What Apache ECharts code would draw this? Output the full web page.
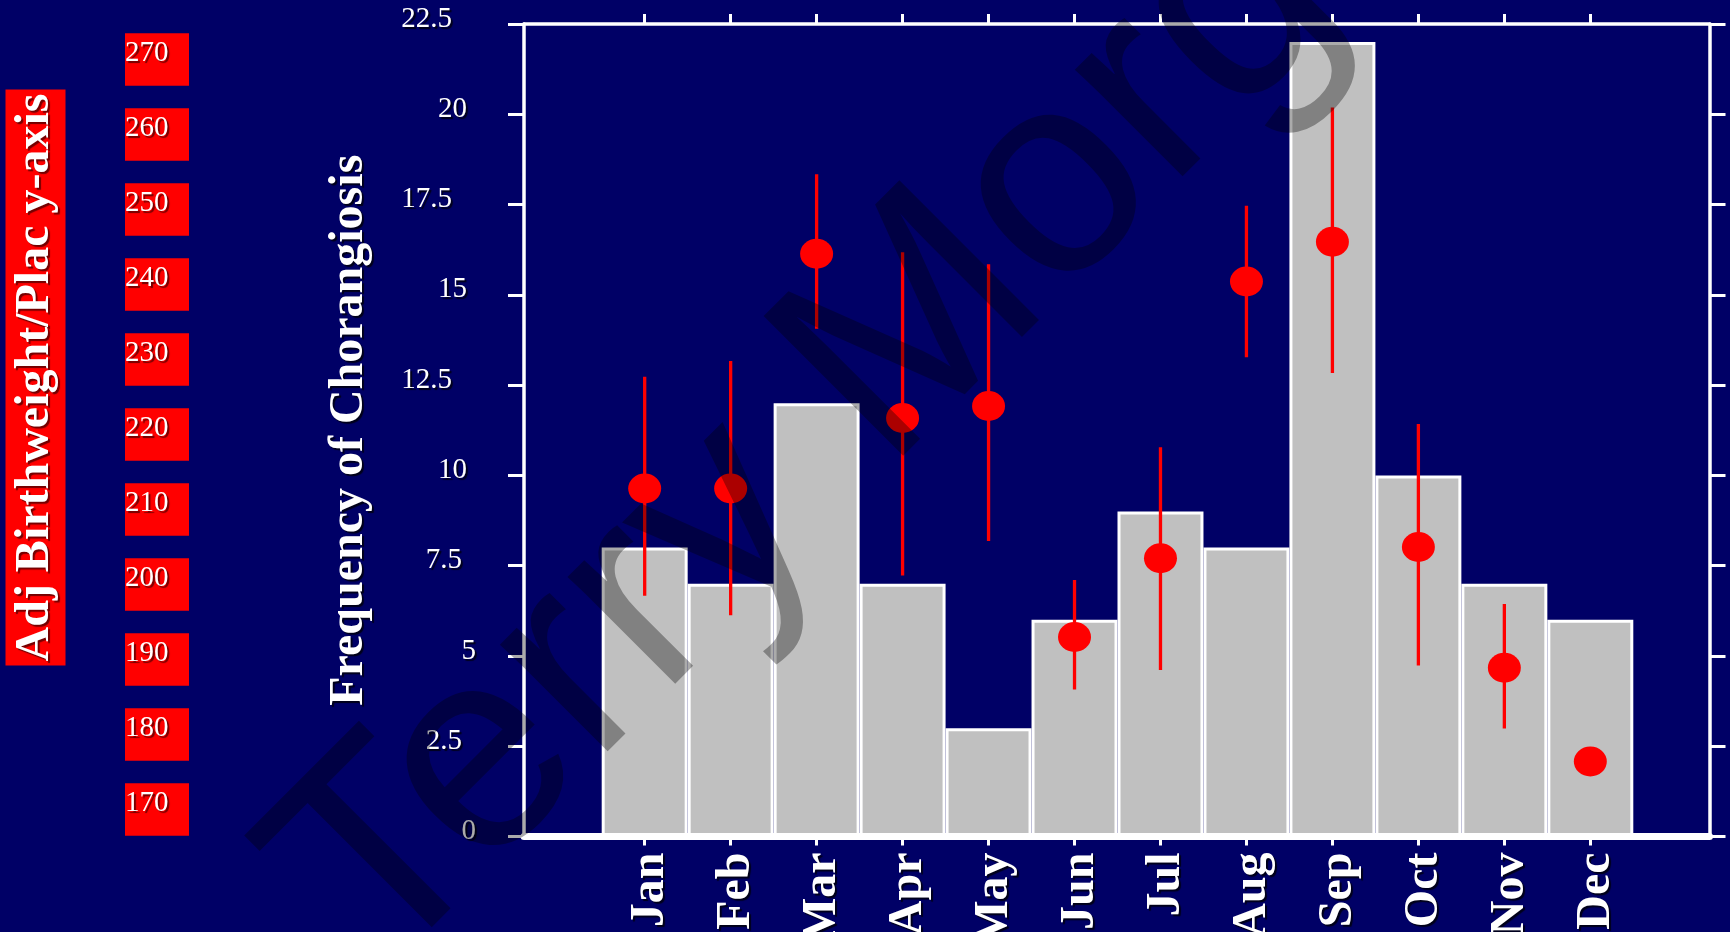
<!DOCTYPE html>
<html>
<head>
<meta charset="utf-8">
<style>
  html, body { margin: 0; padding: 0; background: #000066; }
  #chart { width: 1730px; height: 932px; }
</style>
<script src="https://cdn.jsdelivr.net/npm/echarts@6/dist/echarts.min.js"></script>
</head>
<body>
<div id="chart"></div>
<script>
// histogram counts per birth month
const months = ['Jan', 'Feb', 'Mar', 'Apr', 'May', 'Jun', 'Jul', 'Aug', 'Sep', 'Oct', 'Nov', 'Dec'];
const frequency = [8, 7, 12, 7, 3, 6, 9, 8, 22, 10, 7, 6];

// adjusted birthweight / placenta ratio (mean with error range)
const ratioMean = [212.8, 212.8, 244.1, 222.2, 223.8, 193.0, 203.5, 240.4, 245.7, 205.0, 188.9, 176.4];
const ratioHigh = [227.7, 229.8, 254.7, 244.3, 242.7, 200.6, 218.3, 250.5, 263.6, 221.4, 197.4, null];
const ratioLow = [198.5, 195.9, 234.1, 201.2, 205.8, 186.0, 188.6, 230.3, 228.2, 189.2, 180.8, null];

// axis ranges
const freqMin = 0, freqMax = 22.5, freqStep = 2.5;
const ratioMin = 170, ratioMax = 270, ratioStep = 10;

const serif = '"Liberation Serif", "Times New Roman", serif';
const textShadow = {
  textShadowColor: 'rgba(0,0,0,0.75)',
  textShadowOffsetX: 2,
  textShadowOffsetY: 2,
  textShadowBlur: 1
};
const redShadow = {
  textShadowColor: 'rgba(80,0,0,0.8)',
  textShadowOffsetX: 2,
  textShadowOffsetY: 2,
  textShadowBlur: 1
};

const chart = echarts.init(document.getElementById('chart'));

const errorData = [];
months.forEach((m, i) => {
  if (ratioLow[i] != null && ratioHigh[i] != null) errorData.push([i, ratioLow[i], ratioHigh[i]]);
});

const gridBase = { containLabel: false, outerBoundsMode: 'none' };
const tickLabel = (pad) => ({ color: '#fff', fontFamily: serif, fontSize: 29, padding: [0, pad, 10, 0], ...textShadow });

const option = {
  backgroundColor: '#000066',
  animation: false,
  grid: [
    { ...gridBase, left: 524, right: 20.5, top: 24, bottom: 95.5 },     // frame
    { ...gridBase, left: 601.7, right: 96.7, top: 24, bottom: 95.5 },   // histogram bars
    { ...gridBase, left: 601.7, right: 96.7, top: 59.5, bottom: 122.5 } // ratio scale
  ],
  xAxis: [
    {
      gridIndex: 0, type: 'value', min: 0, max: 1, position: 'bottom', z: 5,
      axisLine: { show: true, onZero: false, lineStyle: { color: '#fff', width: 7 } },
      axisTick: { show: false }, axisLabel: { show: false }, splitLine: { show: false }
    },
    {
      gridIndex: 0, type: 'value', min: 0, max: 1, position: 'top', z: 5,
      axisLine: { show: true, onZero: false, lineStyle: { color: '#fff', width: 3.5 } },
      axisTick: { show: false }, axisLabel: { show: false }, splitLine: { show: false }
    },
    {
      gridIndex: 1, type: 'category', data: months, position: 'bottom', z: 6,
      axisLine: { show: false, onZero: false },
      axisTick: { show: true, alignWithLabel: true, length: 9, lineStyle: { color: '#fff', width: 3 } },
      axisLabel: {
        rotate: 90, margin: 16, interval: 0,
        formatter: v => '{m|' + v + '}',
        rich: {
          m: { color: '#fff', fontFamily: serif, fontWeight: 'bold', fontSize: 48, padding: [12, 0, 0, 0], ...textShadow }
        }
      },
      splitLine: { show: false }
    },
    {
      gridIndex: 1, type: 'category', data: months, position: 'top', z: 6,
      axisLine: { show: false, onZero: false },
      axisTick: { show: true, alignWithLabel: true, length: 10, lineStyle: { color: '#fff', width: 3 } },
      axisLabel: { show: false },
      splitLine: { show: false }
    },
    { gridIndex: 2, type: 'category', data: months, show: false }
  ],
  yAxis: [
    {
      gridIndex: 0, type: 'value', min: freqMin, max: freqMax, interval: freqStep, position: 'left', z: 5,
      axisLine: { show: true, onZero: false, lineStyle: { color: '#fff', width: 3.5 } },
      axisTick: { show: true, length: 16, lineStyle: { color: '#fff', width: 3 } },
      axisLabel: {
        margin: 48,
        formatter: v => { const s = String(v); return '{w' + s.length + '|' + s + '}'; },
        rich: { w1: tickLabel(0), w2: tickLabel(9), w3: tickLabel(14), w4: tickLabel(24) }
      },
      splitLine: { show: false },
      name: 'Frequency of Chorangiosis',
      nameLocation: 'middle',
      nameGap: 150,
      nameTextStyle: { color: '#fff', fontFamily: serif, fontWeight: 'bold', fontSize: 48, ...textShadow }
    },
    {
      gridIndex: 0, type: 'value', min: freqMin, max: freqMax, interval: freqStep, position: 'right', z: 5,
      axisLine: { show: true, onZero: false, lineStyle: { color: '#fff', width: 3.5 } },
      axisTick: { show: true, length: 16, lineStyle: { color: '#fff', width: 3 } },
      axisLabel: { show: false },
      splitLine: { show: false }
    },
    { gridIndex: 1, type: 'value', min: freqMin, max: freqMax, show: false },
    {
      gridIndex: 2, type: 'value', min: ratioMin, max: ratioMax, interval: ratioStep,
      position: 'left', offset: 404.7,
      axisLine: { show: false }, axisTick: { show: false }, splitLine: { show: false },
      axisLabel: {
        margin: 8,
        formatter: v => '{r|' + v + '}',
        rich: {
          r: {
            color: '#fff', fontFamily: serif, fontSize: 29, lineHeight: 29,
            backgroundColor: '#ff0000',
            padding: [5.5, 20.5, 17.9, 0],
            ...redShadow
          }
        }
      }
    }
  ],
  series: [
    {
      type: 'bar', xAxisIndex: 2, yAxisIndex: 2, data: frequency,
      barCategoryGap: '0%', silent: true, z: 2,
      itemStyle: { color: '#c0c0c0', borderColor: '#fff', borderWidth: 3 }
    },
    {
      type: 'custom', xAxisIndex: 4, yAxisIndex: 3, data: errorData, silent: true, z: 3,
      encode: { x: 0, y: [1, 2] },
      renderItem: (params, api) => {
        const lo = api.coord([api.value(0), api.value(1)]);
        const hi = api.coord([api.value(0), api.value(2)]);
        return {
          type: 'line',
          shape: { x1: lo[0], y1: lo[1], x2: hi[0], y2: hi[1] },
          style: { stroke: '#ff0000', lineWidth: 3.3 }
        };
      }
    },
    {
      type: 'scatter', xAxisIndex: 4, yAxisIndex: 3, data: ratioMean, silent: true, z: 4,
      symbol: 'circle', symbolSize: [33, 30],
      itemStyle: { color: '#ff0000', opacity: 1 }
    }
  ],
  graphic: [
    {
      type: 'text', x: 35.5, y: 377.5, rotation: Math.PI / 2, z: 10, silent: true,
      style: {
        text: 'Adj Birthweight/Plac y-axis',
        font: 'bold 48px "Liberation Serif"',
        fill: '#fff',
        backgroundColor: '#ff0000',
        padding: [6, 4, 6, 4],
        align: 'center', verticalAlign: 'middle',
        textAlign: 'center', textVerticalAlign: 'middle',
        ...redShadow
      }
    },
    {
      // watermark over the whole picture
      type: 'text', x: 921, y: 326, rotation: Math.PI / 4, z: 100, silent: true,
      style: {
        text: 'Terry Morgan',
        font: '287px "Liberation Sans"',
        fill: 'rgba(0,0,0,0.33)',
        align: 'center', verticalAlign: 'middle',
        textAlign: 'center', textVerticalAlign: 'middle'
      }
    }
  ]
};

chart.setOption(option);
</script>
</body>
</html>
